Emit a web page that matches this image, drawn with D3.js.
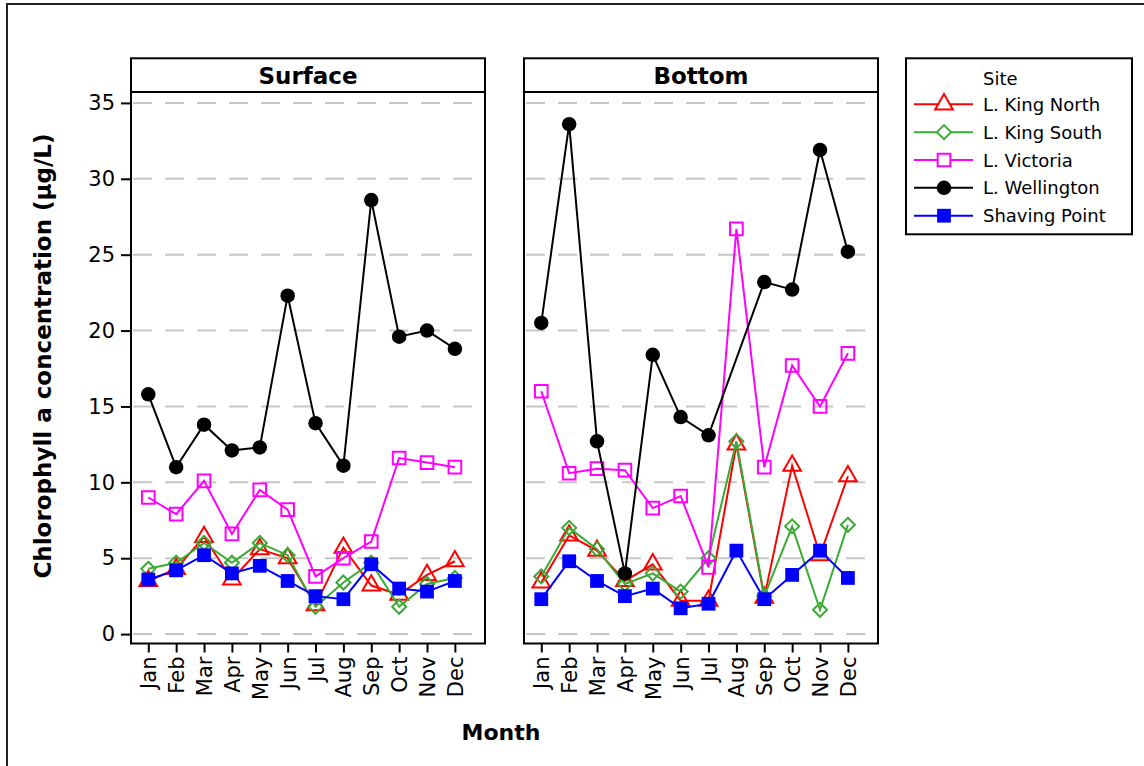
<!DOCTYPE html>
<html>
<head>
<meta charset="utf-8">
<script src="https://cdn.jsdelivr.net/npm/d3@7"></script>
<style>
  html, body { margin: 0; padding: 0; background: #fff; }
  svg { display: block; font-family: "DejaVu Sans", Verdana, sans-serif; }
</style>
</head>
<body>
<svg id="chart" width="1144" height="766"></svg>
<script>
// Months sampled (same positions in both depth panels)
const months = ["Jan", "Feb", "Mar", "Apr", "May", "Jun", "Jul", "Aug", "Sep", "Oct", "Nov", "Dec"];
const panels = ["Surface", "Bottom"];
const sites = ["L. King North", "L. King South", "L. Victoria", "L. Wellington", "Shaving Point"];
const yTicks = [0, 5, 10, 15, 20, 25, 30, 35];

// Chlorophyll a (µg/L), surface samples
const surfaceKingNorth  = [3.5, 4.3, 6.4, 3.6, 5.6, 5.0, 1.9, 5.7, 3.2, 2.6, 3.9, 4.8];
const surfaceKingSouth  = [4.3, 4.7, 6.0, 4.7, 6.0, 5.2, 1.8, 3.4, 4.7, 1.8, 3.3, 3.7];
const surfaceVictoria   = [9.0, 7.9, 10.1, 6.6, 9.5, 8.2, 3.8, 5.0, 6.1, 11.6, 11.3, 11.0];
const surfaceWellington = [15.8, 11.0, 13.8, 12.1, 12.3, 22.3, 13.9, 11.1, 28.6, 19.6, 20.0, 18.8];
const surfaceShaving    = [3.6, 4.2, 5.2, 4.0, 4.5, 3.5, 2.5, 2.3, 4.6, 3.0, 2.8, 3.5];

// Chlorophyll a (µg/L), bottom samples (no Wellington sample in Aug)
const bottomKingNorth  = [3.4, 6.5, 5.5, 3.5, 4.6, 2.2, 2.2, 12.5, 2.4, 11.1, 5.2, 10.4];
const bottomKingSouth  = [3.8, 7.0, 5.6, 3.3, 4.0, 2.8, 5.0, 12.7, 2.5, 7.1, 1.6, 7.2];
const bottomVictoria   = [16.0, 10.6, 10.9, 10.8, 8.3, 9.1, 4.4, 26.7, 11.0, 17.7, 15.0, 18.5];
const bottomWellington = [20.5, 33.6, 12.7, 4.0, 18.4, 14.3, 13.1, null, 23.2, 22.7, 31.9, 25.2];
const bottomShaving    = [2.3, 4.8, 3.5, 2.5, 3.0, 1.7, 2.0, 5.5, 2.3, 3.9, 5.5, 3.7];

const panelSeries = {
  Surface: [surfaceKingNorth, surfaceKingSouth, surfaceVictoria, surfaceWellington, surfaceShaving],
  Bottom:  [bottomKingNorth, bottomKingSouth, bottomVictoria, bottomWellington, bottomShaving]
};

const siteStyle = [
  { color: "#ff0000", type: d3.symbolTriangle, size: 135, filled: false },
  { color: "#3aaa35", type: d3.symbolDiamond2, size: 125, filled: false },
  { color: "#ff00ff", type: d3.symbolSquare, size: 160, filled: false },
  { color: "#000000", type: d3.symbolCircle, size: 165, filled: true },
  { color: "#0000ff", type: d3.symbolSquare, size: 190, filled: true }
];

const svg = d3.select("#chart");

// outer frame
svg.append("rect")
  .attr("x", 7).attr("y", 4).attr("width", 1150).attr("height", 780)
  .attr("fill", "none").attr("stroke", "#222").attr("stroke-width", 2);

const panelW = 354, plotTop = 92, plotBottom = 643.5, stripTop = 58.3;
const panelLeft = { Surface: 131, Bottom: 524 };

const y = d3.scaleLinear().domain([-0.62, 35.72]).range([plotBottom, plotTop]);
const x = d3.scaleLinear().domain([-0.62, 12.08]).range([0, panelW]);

const line = d3.line()
  .x(d => x(d.i))
  .y(d => y(d.v));

panels.forEach((name, pi) => {
  const g = svg.append("g").attr("transform", `translate(${panelLeft[name]},0)`);

  // dashed reference lines
  g.append("g").selectAll("line")
    .data(yTicks)
    .join("line")
    .attr("x1", 2).attr("x2", panelW - 2)
    .attr("y1", d => y(d)).attr("y2", d => y(d))
    .attr("stroke", "#c6c6c6").attr("stroke-width", 2)
    .attr("stroke-dasharray", "19,13");

  // series
  panelSeries[name].forEach((vals, si) => {
    const st = siteStyle[si];
    const pts = vals.map((v, i) => ({ i, v })).filter(d => d.v !== null);
    g.append("path")
      .datum(pts)
      .attr("d", line)
      .attr("fill", "none")
      .attr("stroke", st.color)
      .attr("stroke-width", 2);
    g.append("g").selectAll("path")
      .data(pts)
      .join("path")
      .attr("transform", d => `translate(${x(d.i)},${y(d.v)})`)
      .attr("d", d3.symbol().type(st.type).size(st.size))
      .attr("fill", st.filled ? st.color : "none")
      .attr("stroke", st.color)
      .attr("stroke-width", st.filled ? 0 : 2);
  });

  // plot frame
  g.append("rect")
    .attr("x", 0).attr("y", plotTop).attr("width", panelW).attr("height", plotBottom - plotTop)
    .attr("fill", "none").attr("stroke", "#000").attr("stroke-width", 2);

  // strip
  g.append("rect")
    .attr("x", 0).attr("y", stripTop).attr("width", panelW).attr("height", plotTop - stripTop)
    .attr("fill", "#fff").attr("stroke", "#000").attr("stroke-width", 2);
  g.append("text")
    .attr("x", panelW / 2).attr("y", (stripTop + plotTop) / 2 + 1)
    .attr("text-anchor", "middle").attr("dominant-baseline", "central")
    .attr("font-size", 23).attr("font-weight", "bold")
    .text(name);

  // x axis with rotated month labels
  const xAxis = g.append("g")
    .attr("transform", `translate(0,${plotBottom})`)
    .call(d3.axisBottom(x).tickValues(d3.range(12)).tickFormat(i => months[i]).tickSize(9).tickSizeOuter(0));
  xAxis.select(".domain").remove();
  xAxis.selectAll(".tick line").attr("stroke", "#000").attr("stroke-width", 2);
  xAxis.selectAll(".tick text")
    .attr("transform", "rotate(-90)")
    .attr("x", -13).attr("y", 0).attr("dy", "0.36em")
    .attr("text-anchor", "end")
    .attr("font-size", 21).attr("font-family", "DejaVu Sans").attr("fill", "#000");

  // y axis only on the first panel
  if (pi === 0) {
    const yAxis = g.append("g")
      .call(d3.axisLeft(y).tickValues(yTicks).tickSize(10).tickPadding(6).tickSizeOuter(0));
    yAxis.select(".domain").remove();
    yAxis.selectAll(".tick line").attr("stroke", "#000").attr("stroke-width", 2);
    yAxis.selectAll(".tick text")
      .attr("font-size", 21).attr("font-family", "DejaVu Sans").attr("fill", "#000");
  }
});

// axis titles
svg.append("text")
  .attr("transform", "translate(43,356) rotate(-90)")
  .attr("text-anchor", "middle").attr("dominant-baseline", "central")
  .attr("font-size", 23).attr("font-weight", "bold")
  .text("Chlorophyll a concentration (µg/L)");

svg.append("text")
  .attr("x", 501).attr("y", 732)
  .attr("text-anchor", "middle").attr("dominant-baseline", "central")
  .attr("font-size", 22).attr("font-weight", "bold")
  .text("Month");

// legend
const legend = svg.append("g");
legend.append("rect")
  .attr("x", 906).attr("y", 58.3).attr("width", 226).attr("height", 176)
  .attr("fill", "#fff").attr("stroke", "#000").attr("stroke-width", 2);
legend.append("text")
  .attr("x", 983).attr("y", 78.5).attr("dominant-baseline", "central")
  .attr("font-size", 18).text("Site");
sites.forEach((s, si) => {
  const st = siteStyle[si];
  const cy = 104.3 + si * 27.85;
  legend.append("line")
    .attr("x1", 914).attr("x2", 973).attr("y1", cy).attr("y2", cy)
    .attr("stroke", st.color).attr("stroke-width", 2);
  legend.append("path")
    .attr("transform", `translate(944,${cy})`)
    .attr("d", d3.symbol().type(st.type).size(st.size))
    .attr("fill", st.filled ? st.color : "#fff")
    .attr("stroke", st.color)
    .attr("stroke-width", st.filled ? 0 : 2);
  legend.append("text")
    .attr("x", 983).attr("y", cy).attr("dominant-baseline", "central")
    .attr("font-size", 18).text(s);
});
</script>
</body>
</html>
